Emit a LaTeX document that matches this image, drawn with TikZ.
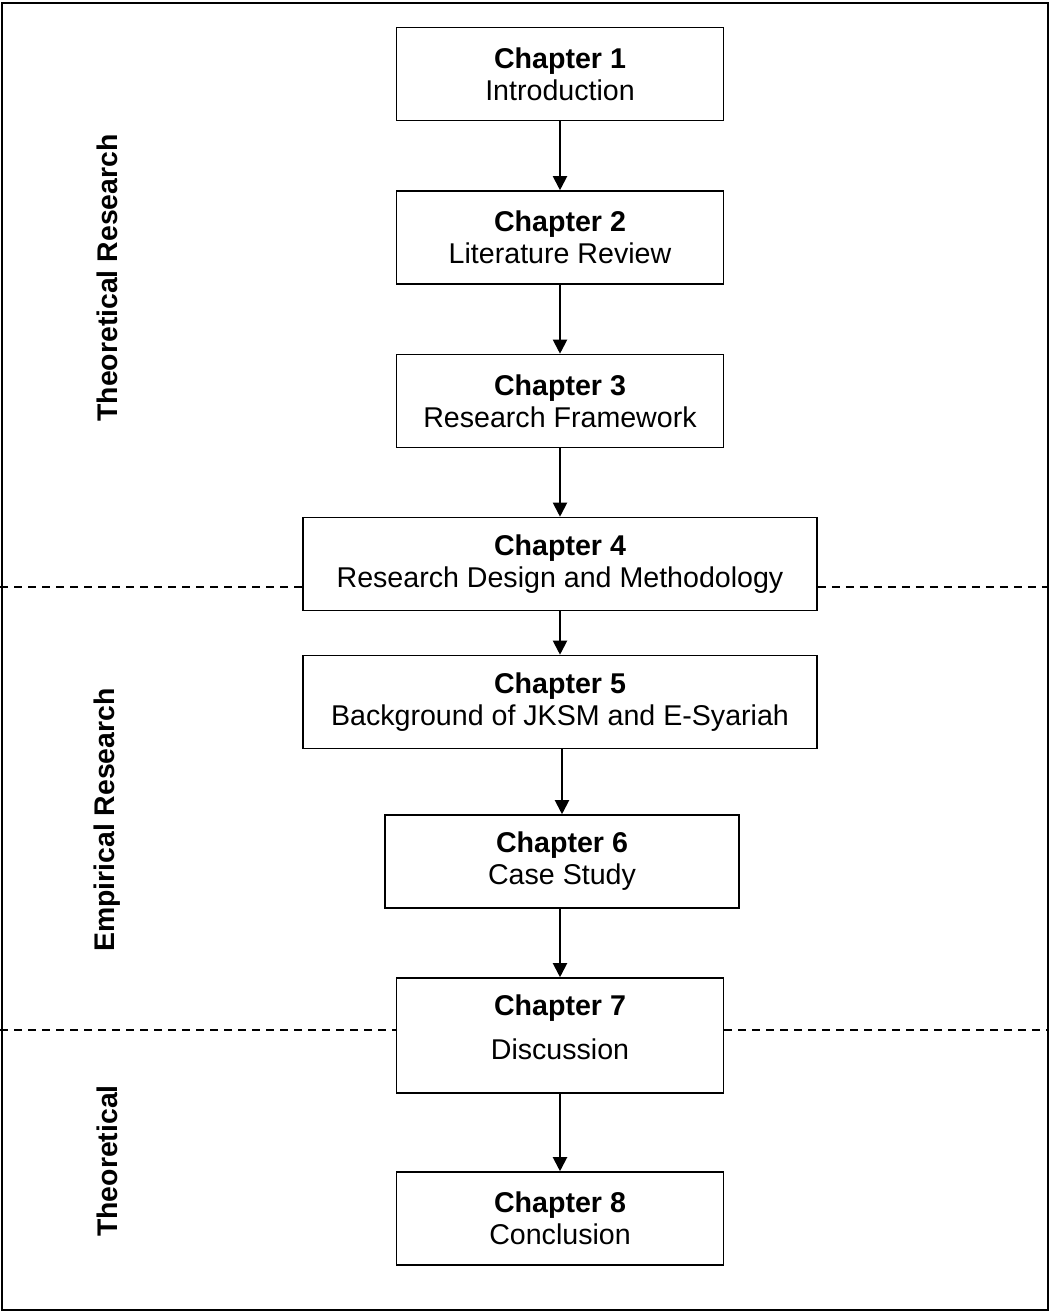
\documentclass[tikz,border=0pt]{standalone}
\usepackage{fontspec}
\setmainfont{Liberation Sans}
\usetikzlibrary{arrows.meta}
\begin{document}
\begin{tikzpicture}[x=0.5pt, y=-0.5pt,
			chapbox/.style={align=center, draw, line width=0.8pt, inner sep=0pt, minimum width=163.5pt, minimum height=46.5pt, font=\fontsize{14.3}{16}\selectfont},
			widebox/.style={chapbox, minimum width=257pt},
			sidelabel/.style={rotate=90, font=\fontsize{14.2}{16}\selectfont\bfseries},
			arrow/.style={-{Triangle[length=7pt, width=7pt]}, line width=1pt},
			divider/.style={dashed, dash pattern=on 4pt off 3pt, line width=0.6pt},
		]
		\useasboundingbox (0,0) rectangle (1050,1313);
		\draw[line width=1pt] (1.5,3) rectangle (1048,1310);

		\node[chapbox] (ch1) at (560, 74)    {\textbf{Chapter 1}\\Introduction};
		\node[chapbox] (ch2) at (560, 237.5) {\textbf{Chapter 2}\\Literature Review};
		\node[chapbox] (ch3) at (560, 401)   {\textbf{Chapter 3}\\Research Framework};
		\node[widebox] (ch4) at (560, 564)   {\textbf{Chapter 4}\\Research Design and Methodology};
		\node[widebox] (ch5) at (560, 702)   {\textbf{Chapter 5}\\Background of JKSM and E-Syariah};
		\node[chapbox, minimum width=177pt] (ch6) at (562, 861.5) {\textbf{Chapter 6}\\Case Study};
		\node[chapbox, minimum height=57.5pt] (ch7) at (560, 1035.5) {\textbf{Chapter 7}\\[6pt]Discussion\\[-8pt]\mbox{}};
		\node[chapbox] (ch8) at (560, 1218.5) {\textbf{Chapter 8}\\Conclusion};

		\node[sidelabel] (theo) at (107, 278)  {Theoretical Research};
		\node[sidelabel] (emp) at (107, 820)   {Empirical Research};
		\node[sidelabel] (theo2) at (107, 1161) {Theoretical};

		\draw[arrow] (ch1) -- (ch2);
		\draw[arrow] (ch2) -- (ch3);
		\draw[arrow] (ch3) -- (ch4);
		\draw[arrow] (ch4) -- (ch5);
		\draw[arrow] (ch5.south -| ch6.north) -- (ch6.north);
		\draw[arrow] (ch6.south -| ch7.north) -- (ch7.north);
		\draw[arrow] (ch7) -- (ch8);

		% section dividers
		\coordinate (l1) at (0, 587);
		\coordinate (r1) at (1048, 587);
		\coordinate (l2) at (0, 1030);
		\coordinate (r2) at (1048, 1030);
		\draw[divider] (l1) -- (l1 -| ch4.west);
		\draw[divider] (l1 -| ch4.east) -- (r1);
		\draw[divider] (l2) -- (l2 -| ch7.west);
		\draw[divider] (l2 -| ch7.east) -- (r2);
	\end{tikzpicture}
\end{document}
